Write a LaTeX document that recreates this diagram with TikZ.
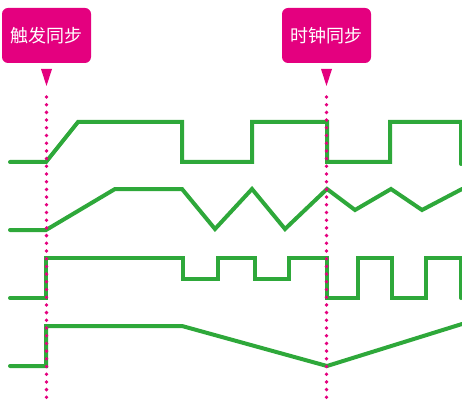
\documentclass[tikz,border=0pt]{standalone}
\usepackage{fontspec}
\newfontfamily\cjk{Noto Sans CJK SC}
\definecolor{mag}{HTML}{E4007F}
\definecolor{grn}{HTML}{2EA83A}
\begin{document}
\begin{tikzpicture}[x=1pt,y=-1pt,
  wave/.style={grn, line width=4pt, line join=miter, line cap=round},
  sync/.style={mag, line width=3.8pt, line cap=round, dash pattern=on 0pt off 7.7pt},
  tag/.style={fill=mag, rounded corners=6pt, minimum width=89pt, minimum height=55pt, text=white, font=\cjk\fontsize{18}{18}\selectfont, inner sep=0pt},
  pointer/.style={fill=mag}]
\useasboundingbox (0,0) rectangle (462,403);
\node[tag] (t1) at (46.5,35.5) {触发同步};
\node[tag] (t2) at (326.5,35.5) {时钟同步};
\fill[pointer] (41,69) -- (52,69) -- (46.5,86) -- cycle;
\fill[pointer] (321,69) -- (332,69) -- (326.5,86) -- cycle;
% waveform 1
\draw[wave] (10,162) -- (46,162) -- (78,122) -- (182,122) -- (182,162) -- (252,162) -- (252,122) -- (327,122) -- (327,162) -- (390,162) -- (390,122) -- (461,122) -- (461,164);
% waveform 2
\draw[wave] (10,230) -- (46,230) -- (115,189) -- (182,189) -- (215,229) -- (252,189) -- (285,229) -- (327,189) -- (355,210) -- (391,189) -- (422,210) -- (462,189);
% waveform 3
\draw[wave] (10,298) -- (46,298) -- (46,258) -- (183,258) -- (183,279) -- (218,279) -- (218,258) -- (255,258) -- (255,279) -- (289,279) -- (289,258) -- (327,258) -- (327,298) -- (358,298) -- (358,258) -- (392,258) -- (392,298) -- (426,298) -- (426,258) -- (461,258) -- (461,298);
% waveform 4
\draw[wave] (10,366) -- (46,366) -- (46,326) -- (182,326) -- (327,366) -- (462,324);
% sync lines
\coordinate (s1) at (46.5,402);
\coordinate (s2) at (326.5,402);
\draw[sync] (46.5,97) -- (s1);
\draw[sync] (326.5,97) -- (s2);
\end{tikzpicture}
\end{document}
